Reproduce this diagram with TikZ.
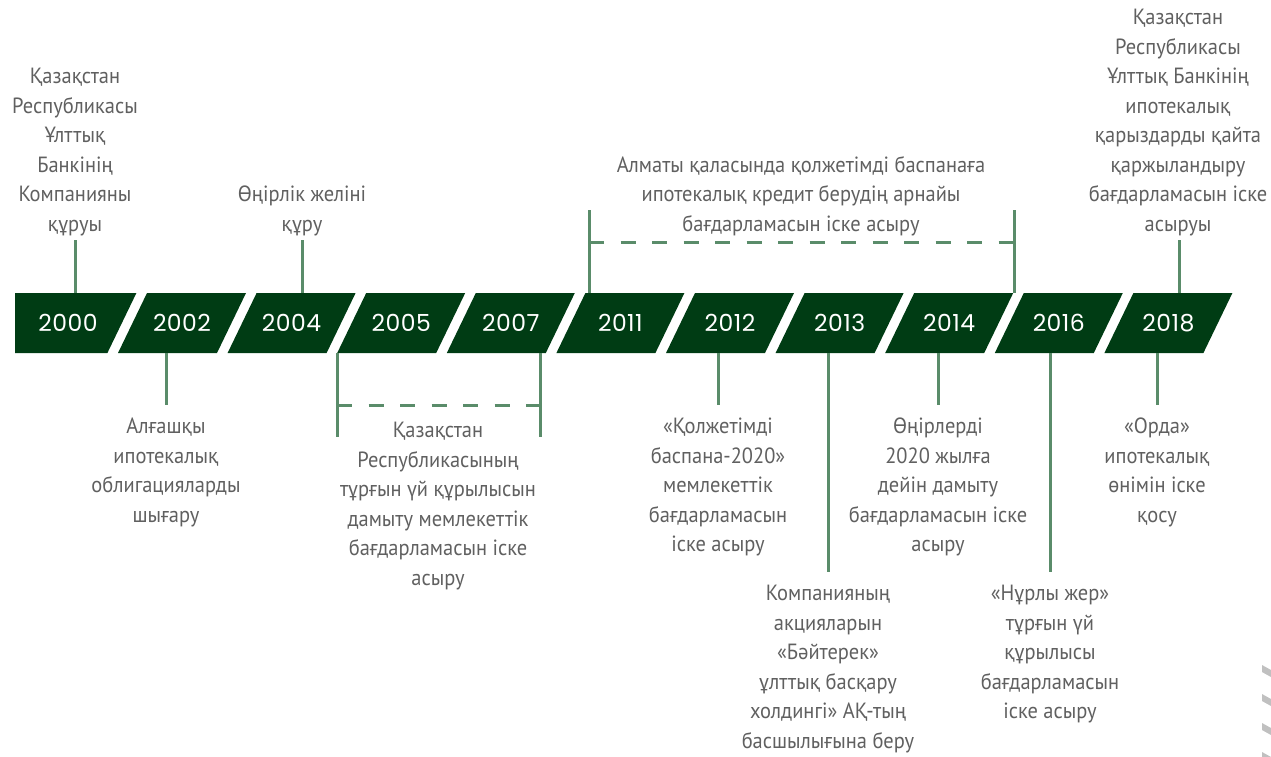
\documentclass[tikz,border=0pt]{standalone}
\usepackage{fontspec}
\setmainfont[FakeStretch=0.93]{PT Sans}
\newfontfamily\yearfont[LetterSpace=2]{Poppins}

\definecolor{bandgreen}{RGB}{0,60,20}
\definecolor{linegreen}{RGB}{90,140,106}
\definecolor{notegray}{RGB}{96,96,96}
\definecolor{hatchgray}{RGB}{192,192,192}

\def \bandTop {293}
\def \bandBot {353}
\def \slant {29}
\def \cellW {99}
\def \period {109.6}

\tikzset{
  yearcell/.style={fill=bandgreen},
  yearlabel/.style={text=white, font=\yearfont\fontsize{23.5}{26}\selectfont},
  conn/.style={draw=linegreen, line width=3pt},
  connspan/.style={conn, dash pattern=on 15pt off 16.5pt},
  note/.style={text=notegray, align=center, inner xsep=0pt, font=\fontsize{22}{29.5}\selectfont},
  noteabove/.style={note, anchor=south, inner ysep=4pt},
  notebelow/.style={note, anchor=north, inner ysep=13pt},
}

\begin{document}
\begin{tikzpicture}[x=1pt, y=-1pt]
      \useasboundingbox (0,0) rectangle (1271,756);
      % the band of years
      \fill[yearcell] (15,\bandTop) -- (136.4,\bandTop) -- (107.4,\bandBot) -- (15,\bandBot) -- cycle;
      \node[yearlabel] (y2000) at (68,323) {2000};
      \foreach \yr [count=\i] in {2002,2004,2005,2007,2011,2012,2013,2014,2016,2018} {
         \pgfmathsetmacro{\xL}{37.4+\period*\i}
         \fill[yearcell] (\xL,\bandTop) -- ++(\cellW,0) -- ++(-\slant,60) -- ++(-\cellW,0) -- cycle;
         \node[yearlabel] (y\yr) at (\xL+35,323) {\yr};
      }

      % above the band
      \coordinate (a2000) at (75,\bandTop);
      \node[noteabove] (t2000) at (75,240) {Қазақстан\\Республикасы\\Ұлттық\\Банкінің\\Компанияны\\құруы};
      \draw[conn] (t2000) -- (a2000);

      \coordinate (a2004) at (302,\bandTop);
      \node[noteabove] (t2004) at (302,240) {Өңірлік желіні\\құру};
      \draw[conn] (t2004) -- (a2004);

      \coordinate (k2011) at (589,\bandTop);
      \coordinate (k2011u) at (589,210);
      \coordinate (k2014) at (1014,\bandTop);
      \coordinate (k2014u) at (1014,210);
      \coordinate (k2011m) at (589,242);
      \coordinate (k2014m) at (1014,242);
      \draw[conn] (k2011) -- (k2011u);
      \draw[conn] (k2014) -- (k2014u);
      \draw[connspan] (k2011m) -- (k2014m);
      \node[noteabove] (t2011) at (801,240) {Алматы қаласында қолжетімді баспанаға\\ипотекалық кредит берудің арнайы\\бағдарламасын іске асыру};

      \coordinate (a2018) at (1179,\bandTop);
      \node[noteabove] (t2018) at (1178,240) {Қазақстан\\Республикасы\\Ұлттық Банкінің\\ипотекалық\\қарыздарды қайта\\қаржыландыру\\бағдарламасын іске\\асыруы};
      \draw[conn] (t2018.south -| a2018) -- (a2018);

      % below the band
      \coordinate (b2002) at (166,\bandBot);
      \node[notebelow] (t2002) at (166,405) {Алғашқы\\ипотекалық\\облигацияларды\\шығару};
      \draw[conn] (b2002) -- (t2002);

      \coordinate (k2005) at (337,\bandBot);
      \coordinate (k2005d) at (337,437);
      \coordinate (k2007) at (540,\bandBot);
      \coordinate (k2007d) at (540,437);
      \coordinate (k2005m) at (337,405);
      \coordinate (k2007m) at (540,405);
      \draw[conn] (k2005) -- (k2005d);
      \draw[conn] (k2007) -- (k2007d);
      \draw[connspan] (k2005m) -- (k2007m);
      \node[notebelow] (t2005) at (438,409) {Қазақстан\\Республикасының\\тұрғын үй құрылысын\\дамыту мемлекеттік\\бағдарламасын іске\\асыру};

      \coordinate (b2012) at (718,\bandBot);
      \node[notebelow] (t2012) at (718,405) {«Қолжетімді\\баспана-2020»\\мемлекеттік\\бағдарламасын\\іске асыру};
      \draw[conn] (b2012) -- (t2012);

      \coordinate (b2013) at (828,\bandBot);
      \node[notebelow] (t2013) at (828,572) {Компанияның\\акцияларын\\«Бәйтерек»\\ұлттық басқару\\холдингі» АҚ-тың\\басшылығына беру};
      \draw[conn] (b2013) -- (t2013);

      \coordinate (b2014) at (938,\bandBot);
      \node[notebelow] (t2014) at (938,405) {Өңірлерді\\2020 жылға\\дейін дамыту\\бағдарламасын іске\\асыру};
      \draw[conn] (b2014) -- (t2014);

      \coordinate (b2016) at (1050,\bandBot);
      \node[notebelow] (t2016) at (1050,572) {«Нұрлы жер»\\тұрғын үй\\құрылысы\\бағдарламасын\\іске асыру};
      \draw[conn] (b2016) -- (t2016);

      \coordinate (b2018) at (1157,\bandBot);
      \node[notebelow] (t2018b) at (1157,405) {«Орда»\\ипотекалық\\өнімін іске\\қосу};
      \draw[conn] (b2018) -- (t2018b);

      % hatch in the corner
      \foreach \k in {0,...,3}
         \fill[hatchgray] (1262,{665+29*\k}) -- (1271,{670+29*\k}) -- (1271,{677+29*\k}) -- (1262,{672+29*\k}) -- cycle;
   \end{tikzpicture}
\end{document}
